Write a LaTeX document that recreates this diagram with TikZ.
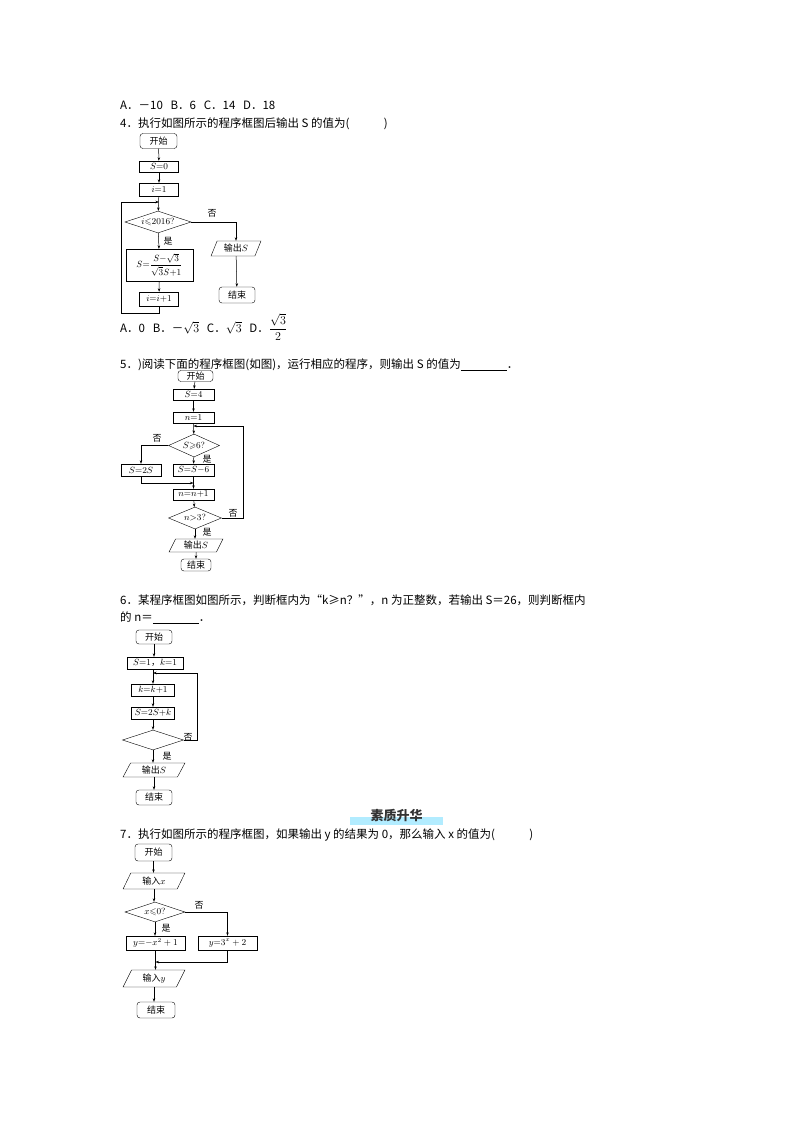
\documentclass[tikz,border=0pt]{standalone}
\usepackage{amsmath,amssymb}
\usepackage{fontspec}
\setmainfont{Noto Sans CJK SC}
\usetikzlibrary{shapes.geometric,arrows.meta}
\begin{document}
\begin{tikzpicture}[x=1pt,y=-1pt,
  txt/.style={anchor=west,inner sep=0,font=\fontsize{11.5}{13}\selectfont},
  lab/.style={inner sep=0,font=\fontsize{9}{10}\selectfont},
  term/.style={draw,rounded corners=3pt,inner sep=0,font=\fontsize{9}{10}\selectfont},
  proc/.style={draw,inner sep=0,font=\fontsize{9}{10}\selectfont},
  dec/.style={draw,diamond,inner sep=0,font=\fontsize{9}{10}\selectfont},
  io/.style={draw,trapezium,trapezium left angle=65,trapezium right angle=115,trapezium stretches=true,inner sep=0,font=\fontsize{9}{10}\selectfont},
  ar/.style={-{Stealth[length=3.5pt,width=2.5pt]},line width=0.5pt},
  ln/.style={line width=0.5pt}]
\useasboundingbox (0,0) rectangle (794,1123);
\fill[white] (0,0) rectangle (794,1123);
% ---- Q3 answers & Q4
\node[txt] (a3) at (120,105) {A．－10\ \ \ B．6\ \ \ C．14\ \ \ D．18};
\node[txt] (q4) at (120,124) {4．执行如图所示的程序框图后输出 S 的值为(\hspace{3em})};
\node[term,minimum width=37,minimum height=15] (s4) at (158.5,141) {开始};
\node[proc,minimum width=39,minimum height=11] (b41) at (159,166.5) {$S{=}0$};
\node[proc,minimum width=39,minimum height=13] (b42) at (159,189.5) {$i{=}1$};
\coordinate (m4) at (159,202);
\node[dec,minimum width=66,minimum height=22,aspect=3] (d4) at (158,222) {$i{\leqslant}2016?$};
\node[proc,minimum width=67,minimum height=32] (b43) at (159.5,265) {$S{=}\dfrac{S{-}\sqrt3}{\sqrt3S{+}1}$};
\node[proc,minimum width=39,minimum height=14] (b44) at (159,299) {$i{=}i{+}1$};
\node[io,minimum width=50,minimum height=15] (o4) at (236,248.5) {输出$S$};
\node[term,minimum width=36,minimum height=16] (e4) at (237,295) {结束};
\node[lab] (y4) at (168,241) {是};
\node[lab] (n4) at (212,213) {否};
\draw[ar] (s4)--(b41); \draw[ar] (b41)--(b42); \draw[ar] (b42)--(d4);
\draw[ar] (d4)--(b43); \draw[ar] (b43)--(b44);
\draw[ar] (b44.south) |- (121,313) |- (m4);
\draw[ar] (d4.east) -| (o4.north); \draw[ar] (o4)--(e4);
\node[txt] (a4) at (120,327) {A．0\ \ \ B．－$\sqrt{3}$\ \ \ C．$\sqrt{3}$\ \ \ D．$\dfrac{\sqrt{3}}{2}$};
% ---- Q5
\node[txt] (q5) at (120,365) {5．)阅读下面的程序框图(如图)，运行相应的程序，则输出 S 的值为\underline{\hspace{4em}}．};
\node[term,minimum width=35,minimum height=11] (s5) at (195.5,376) {开始};
\node[proc,minimum width=41,minimum height=11] (b51) at (193.5,394.5) {$S{=}4$};
\node[proc,minimum width=41,minimum height=11] (b52) at (193.5,417.5) {$n{=}1$};
\coordinate (m5) at (193.5,426);
\node[dec,minimum width=51,minimum height=23,aspect=2.2] (d5) at (194,445.5) {$S{\geqslant}6?$};
\node[proc,minimum width=40,minimum height=12] (b53) at (141,470) {$S{=}2S$};
\node[proc,minimum width=41,minimum height=12] (b54) at (193.5,470) {$S{=}S{-}6$};
\coordinate (m5b) at (193.5,483);
\node[proc,minimum width=41,minimum height=11] (b55) at (193.5,494.5) {$n{=}n{+}1$};
\node[dec,minimum width=53,minimum height=22,aspect=2.4] (d52) at (195,518) {$n{>}3?$};
\node[io,minimum width=54,minimum height=13] (o5) at (196,545.5) {输出$S$};
\node[term,minimum width=30,minimum height=12] (e5) at (196,565) {结束};
\node[lab] (n5) at (157,438) {否};
\node[lab] (y5) at (207,459) {是};
\node[lab] (n52) at (233,513) {否};
\node[lab] (y52) at (207,532) {是};
\draw[ar] (s5)--(b51); \draw[ar] (b51)--(b52); \draw[ar] (b52)--(d5);
\draw[ar] (d5.west) -| (b53.north); \draw[ar] (d5)--(b54);
\draw[ar] (b53.south) |- (m5b); \draw[ar] (b54)--(b55); \draw[ar] (b55)--(d52);
\draw[ar] (d52.east) -| (243,426) -- (m5);
\draw[ar] (d52)--(d52|-o5.north); \draw[ar] (o5)--(e5);
% ---- Q6
\node[txt] (q6) at (120,600) {6．某程序框图如图所示，判断框内为“k≥n？”，n 为正整数，若输出 S＝26，则判断框内};
\node[txt] (q6b) at (120,618) {的 n＝\underline{\hspace{4em}}．};
\node[term,minimum width=36,minimum height=14] (s6) at (154,637) {开始};
\node[proc,minimum width=56,minimum height=12] (b61) at (155,663) {$S{=}1$，$k{=}1$};
\coordinate (m6) at (153,673);
\node[proc,minimum width=43,minimum height=12] (b62) at (153,690) {$k{=}k{+}1$};
\node[proc,minimum width=43,minimum height=12] (b63) at (153,713) {$S{=}2S{+}k$};
\node[dec,minimum width=61,minimum height=20,aspect=3] (d6) at (153,740) {};
\node[io,minimum width=62,minimum height=14] (o6) at (154,770) {输出$S$};
\node[term,minimum width=36,minimum height=15] (e6) at (154,797.5) {结束};
\node[lab] (n6) at (188,737) {否};
\node[lab] (y6) at (167,756) {是};
\draw[ar] (s6.south)--(s6.south|-b61.north); \draw[ar] (b61.south-|m6)--(b62); \draw[ar] (b62)--(b63); \draw[ar] (b63)--(d6);
\draw[ar] (d6.east) -| (197,673) -- (m6);
\draw[ar] (d6.south)--(d6.south|-o6.north); \draw[ar] (o6.south)--(o6.south|-e6.north);
% ---- header
\fill[blue!25!cyan!30] (350,817) rectangle (443,825) coordinate (hb);
\node[inner sep=0,font=\fontsize{13}{14}\selectfont\bfseries,text=black!80] (hd) at (396.5,815) {素质升华};
% ---- Q7
\node[txt] (q7) at (120,835) {7．执行如图所示的程序框图，如果输出 y 的结果为 0，那么输入 x 的值为(\hspace{3em})};
\node[term,minimum width=37,minimum height=17] (s7) at (153.5,852.5) {开始};
\node[io,minimum width=62,minimum height=16] (i7) at (154,881) {输入$x$};
\node[dec,minimum width=60,minimum height=20,aspect=3] (d7) at (155,912) {$x{\leqslant}0?$};
\node[proc,minimum width=59,minimum height=14] (b71) at (155.5,943) {$y{=}{-}x^2+1$};
\node[proc,minimum width=59,minimum height=14] (b72) at (227.5,943) {$y{=}3^x+2$};
\coordinate (m7) at (155.5,962);
\node[io,minimum width=62,minimum height=17] (o7) at (154,978.5) {输入$y$};
\node[term,minimum width=38,minimum height=16] (e7) at (156,1010) {结束};
\node[lab] (n7) at (199,905) {否};
\node[lab] (y7) at (166,928) {是};
\draw[ar] (s7)--(s7|-i7.north); \draw[ar] (i7.south)--(i7.south|-d7.north);
\draw[ar] (d7.south)--(d7.south|-b71.north); \draw[ar] (d7.east) -| (b72.north);
\draw[ar] (b72.south) |- (m7); \draw[ar] (b71.south)--(b71.south|-o7.north);
\draw[ar] (o7.south)--(o7.south|-e7.north);
\end{tikzpicture}
\end{document}
